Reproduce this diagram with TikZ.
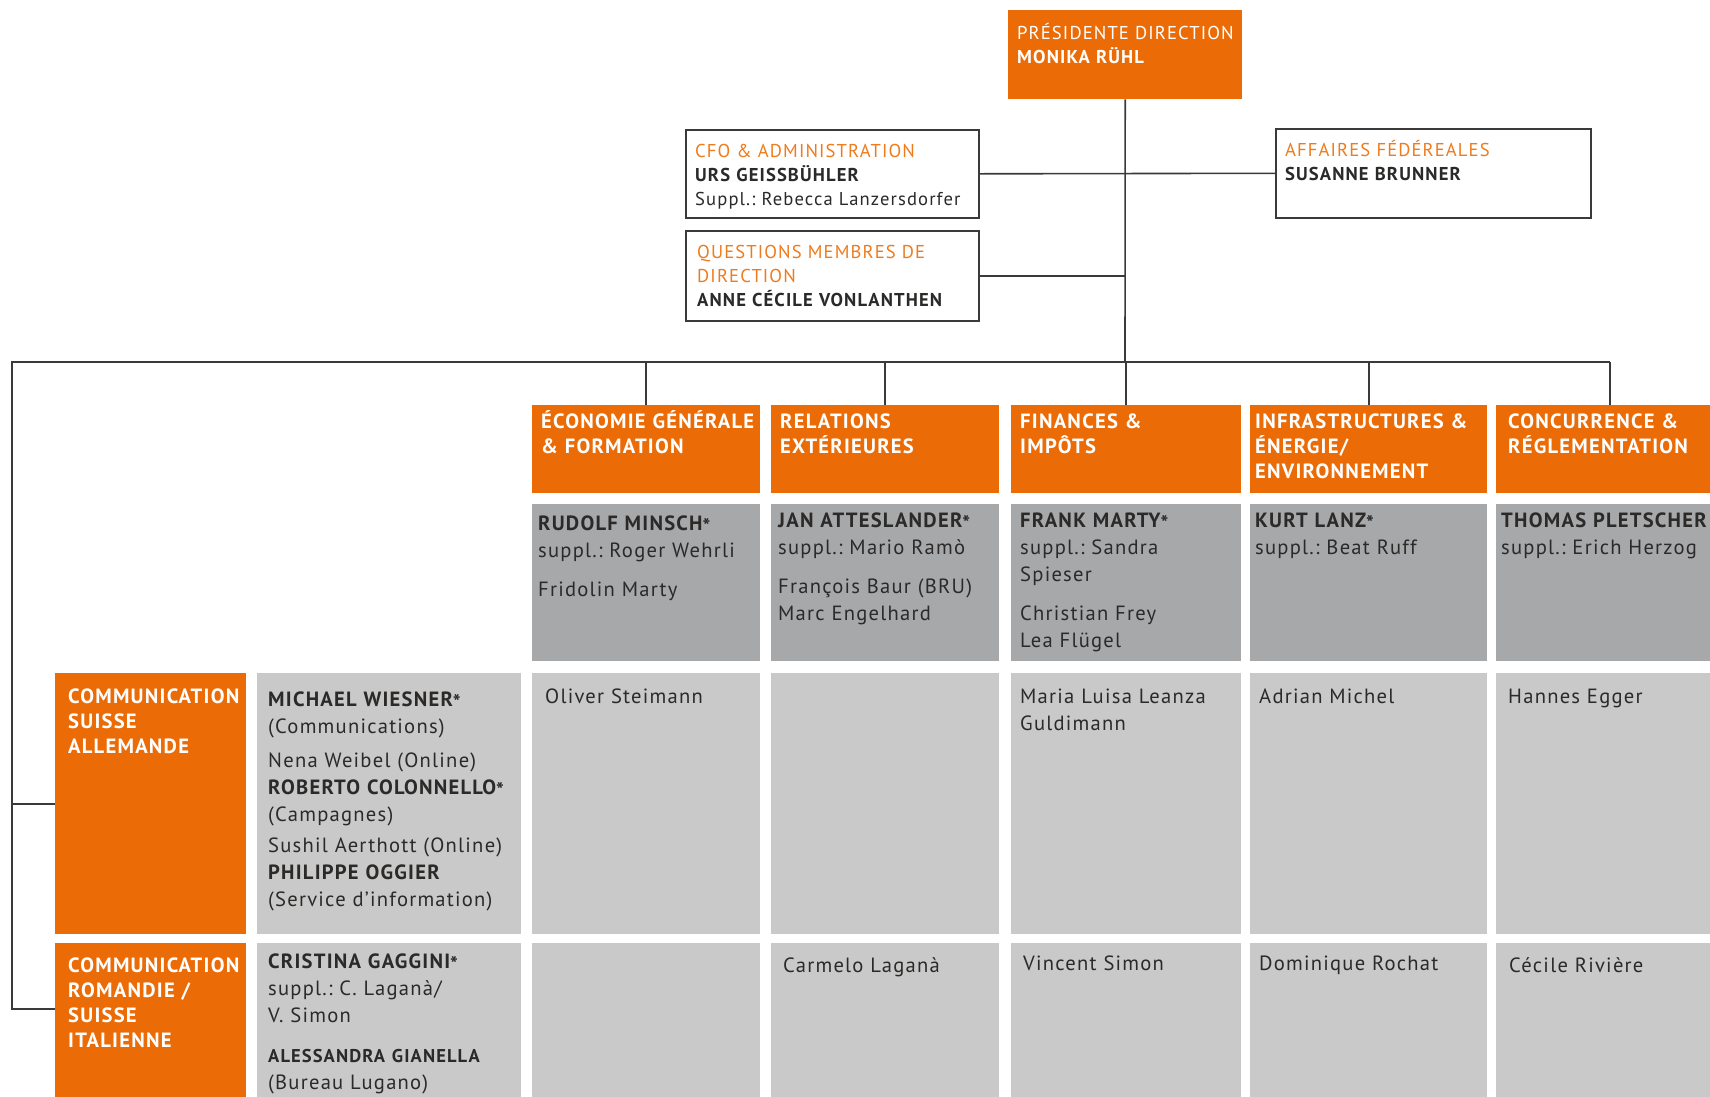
\documentclass[tikz,border=0pt]{standalone}
\usepackage{fontspec}
\setmainfont{PT Sans}[LetterSpace=6]
\frenchspacing
\newcommand{\starmark}{\raisebox{-0.35ex}{*}}
\definecolor{dirorange}{HTML}{EB6C07}
\definecolor{txtorange}{HTML}{EE7B1C}
\definecolor{headgrey}{HTML}{A7A8AA}
\definecolor{cellgrey}{HTML}{C8C9C8}
\definecolor{inkgrey}{HTML}{2B2A29}
\definecolor{rulegrey}{HTML}{3A3A3A}
\tikzset{
  frame/.style={draw=rulegrey, line width=1.6pt, fill=white, anchor=north west, inner sep=0pt},
  orbox/.style={fill=dirorange, anchor=north west, inner sep=0pt},
  darkcell/.style={fill=headgrey, anchor=north west, inner sep=0pt},
  lightcell/.style={fill=cellgrey, anchor=north west, inner sep=0pt},
  wire/.style={draw=rulegrey, line width=1.6pt},
  tsmall/.style={anchor=base west, inner sep=0pt, align=left, text width=330pt, text=inkgrey, font=\fontsize{18.6}{24}\selectfont},
  thead/.style={anchor=base west, inner sep=0pt, align=left, text width=330pt, text=white, font=\fontsize{20.6}{25}\selectfont\bfseries},
  tcell/.style={anchor=base west, inner sep=0pt, align=left, text width=330pt, text=inkgrey, font=\fontsize{20.6}{27}\selectfont}
}
\begin{document}
\begin{tikzpicture}[x=1pt,y=-1pt,line join=miter]
\useasboundingbox (0,0) rectangle (1710,1096);
% top management
\node[orbox, minimum width=234, minimum height=89] (pres) at (1008,10) {};
\node[tsmall, text=white] (presT) at (1017,39) {PRÉSIDENTE DIRECTION\\\textbf{MONIKA RÜHL}};
\node[frame, minimum width=293, minimum height=88] (cfo) at (685,129) {};
\node[tsmall] (cfoT) at (695,157) {\textcolor{txtorange}{CFO \& ADMINISTRATION}\\\textbf{URS GEISSBÜHLER}\\Suppl.: Rebecca Lanzersdorfer};
\node[frame, minimum width=293, minimum height=90] (quest) at (685,230) {};
\node[tsmall] (questT) at (697,258) {\textcolor{txtorange}{QUESTIONS MEMBRES DE}\\\textcolor{txtorange}{DIRECTION}\\\textbf{ANNE CÉCILE VONLANTHEN}};
\node[frame, minimum width=315, minimum height=89] (fed) at (1275,128) {};
\node[tsmall] (fedT) at (1285,156) {\textcolor{txtorange}{AFFAIRES FÉDÉREALES}\\\textbf{SUSANNE BRUNNER}};
% departments
\node[orbox, minimum width=228, minimum height=88] (eco) at (532,405) {};
\node[orbox, minimum width=228, minimum height=88] (rel) at (771,405) {};
\node[orbox, minimum width=230, minimum height=88] (fin) at (1011,405) {};
\node[orbox, minimum width=237, minimum height=88] (inf) at (1250,405) {};
\node[orbox, minimum width=228, minimum height=88] (con) at (1496,405) {};
\node[thead] (ecoT) at (541,428) {ÉCONOMIE GÉNÉRALE\\\& FORMATION};
\node[thead] (relT) at (780,428) {RELATIONS\\EXTÉRIEURES};
\node[thead] (finT) at (1020,428) {FINANCES \&\\IMPÔTS};
\node[thead] (infT) at (1255,428) {INFRASTRUCTURES \&\\ÉNERGIE/\\ENVIRONNEMENT};
\node[thead] (conT) at (1508,428) {CONCURRENCE \&\\RÉGLEMENTATION};
\node[darkcell, minimum width=228, minimum height=157] (ecoH) at (532,504) {};
\node[darkcell, minimum width=228, minimum height=157] (relH) at (771,504) {};
\node[darkcell, minimum width=230, minimum height=157] (finH) at (1011,504) {};
\node[darkcell, minimum width=237, minimum height=157] (infH) at (1250,504) {};
\node[darkcell, minimum width=228, minimum height=157] (conH) at (1496,504) {};
\node[tcell] (ecoHT) at (538,530) {\textbf{RUDOLF MINSCH\starmark}\\suppl.: Roger Wehrli\\[12pt]Fridolin Marty};
\node[tcell] (relHT) at (778,527) {\textbf{JAN ATTESLANDER\starmark}\\suppl.: Mario Ramò\\[12pt]François Baur (BRU)\\Marc Engelhard};
\node[tcell] (finHT) at (1020,527) {\textbf{FRANK MARTY\starmark}\\suppl.: Sandra\\Spieser\\[12pt]Christian Frey\\Lea Flügel};
\node[tcell] (infHT) at (1255,527) {\textbf{KURT LANZ\starmark}\\suppl.: Beat Ruff};
\node[tcell] (conHT) at (1501,527) {\textbf{THOMAS PLETSCHER}\\suppl.: Erich Herzog};
% communication rows
\node[orbox, minimum width=191, minimum height=261] (csa) at (55,673) {};
\node[orbox, minimum width=191, minimum height=160] (csr) at (55,943) {};
\node[thead] (csaT) at (68,703) {COMMUNICATION\\SUISSE\\ALLEMANDE};
\node[thead] (csrT) at (68,972) {COMMUNICATION\\ROMANDIE /\\SUISSE\\ITALIENNE};
\node[lightcell, minimum width=264, minimum height=261] (csaP) at (257,673) {};
\node[lightcell, minimum width=264, minimum height=160] (csrP) at (257,943) {};
\node[tcell] (csaPT) at (268,706) {\textbf{MICHAEL WIESNER\starmark}\\(Communications)\\[7pt]Nena Weibel (Online)\\\textbf{ROBERTO COLONNELLO\starmark}\\(Campagnes)\\[4pt]Sushil Aerthott (Online)\\\textbf{PHILIPPE OGGIER}\\(Service d’information)};
\node[tcell] (csrPT) at (268,968) {\textbf{CRISTINA GAGGINI\starmark}\\suppl.: C. Laganà/\\V. Simon\\[13pt]{\fontsize{18.5}{27}\selectfont\textbf{ALESSANDRA GIANELLA}}\\(Bureau Lugano)};
\node[lightcell, minimum width=228, minimum height=261] (ecoA) at (532,673) {};
\node[lightcell, minimum width=228, minimum height=261] (relA) at (771,673) {};
\node[lightcell, minimum width=230, minimum height=261] (finA) at (1011,673) {};
\node[lightcell, minimum width=237, minimum height=261] (infA) at (1250,673) {};
\node[lightcell, minimum width=228, minimum height=261] (conA) at (1496,673) {};
\node[lightcell, minimum width=228, minimum height=160] (ecoR) at (532,943) {};
\node[lightcell, minimum width=228, minimum height=160] (relR) at (771,943) {};
\node[lightcell, minimum width=230, minimum height=160] (finR) at (1011,943) {};
\node[lightcell, minimum width=237, minimum height=160] (infR) at (1250,943) {};
\node[lightcell, minimum width=228, minimum height=160] (conR) at (1496,943) {};
\node[tcell] (ecoAT) at (545,703) {Oliver Steimann};
\node[tcell] (finAT) at (1020,703) {Maria Luisa Leanza\\Guldimann};
\node[tcell] (infAT) at (1259,703) {Adrian Michel};
\node[tcell] (conAT) at (1508,703) {Hannes Egger};
\node[tcell] (relRT) at (783,972) {Carmelo Laganà};
\node[tcell] (finRT) at (1023,970) {Vincent Simon};
\node[tcell] (infRT) at (1259,970) {Dominique Rochat};
\node[tcell] (conRT) at (1509,972) {Cécile Rivière};
% connectors
\coordinate (junc) at (1125,362);
\coordinate (westend) at (12,362);
\coordinate (eastend) at (1610,362);
\draw[wire] (pres.south) -- (junc);
\draw[wire] (cfo.east) -- (fed.west);
\draw[wire] (quest.east) -- (quest.east -| junc);
\draw[wire] (eastend) -- (westend) |- ([yshift=-66pt]csr.north west);
\draw[wire] (csa.west -| westend) -- (csa.west);
\foreach \d in {eco,rel,fin,inf,con}
  \draw[wire] (\d.north) -- (\d.north |- junc);
\end{tikzpicture}
\end{document}
